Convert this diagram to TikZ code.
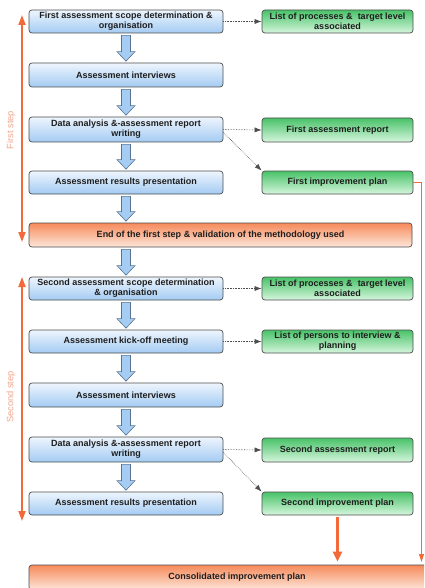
\documentclass[tikz,border=0pt]{standalone}
\usepackage{fontspec}
\setmainfont{Liberation Sans}
\usetikzlibrary{calc,arrows.meta}

\definecolor{boxline}{HTML}{4E4E4E}
\definecolor{txt}{HTML}{1E1E1E}
\definecolor{bluetop}{HTML}{EEF5FD}
\definecolor{bluebot}{HTML}{A3CBF3}
\definecolor{greentop}{HTML}{48C268}
\definecolor{greenbot}{HTML}{D6F6DD}
\definecolor{orangetop}{HTML}{F68A5A}
\definecolor{orangebot}{HTML}{FDE7DB}
\definecolor{arrowfill}{HTML}{A5CDF3}
\definecolor{arrowline}{HTML}{5A7390}
\definecolor{orangeline}{HTML}{F26A3A}
\definecolor{steplabel}{HTML}{F0A68C}

% big down arrow from box #1 to box #2, centred on the task column
\newcommand\flowdown[2]{%
  \draw[flowarrow] let \p1=(#1.south), \p2=(#2.north), \p3=(b1.center) in
    (\x3-4.5pt,\y1-2pt) -- (\x3+4.5pt,\y1-2pt) -- (\x3+4.5pt,\y2+11pt)
    -- (\x3+9pt,\y2+11pt) -- (\x3,\y2+1.5pt) -- (\x3-9pt,\y2+11pt)
    -- (\x3-4.5pt,\y2+11pt) -- cycle;}

\begin{document}
\begin{tikzpicture}[x=1pt,y=-1pt,
  box/.style={draw=boxline, line width=0.7pt, rounded corners=3pt,
    font=\bfseries\fontsize{9}{10}\selectfont, text=txt, align=center,
    inner sep=1pt, shading=axis},
  task/.style={box, minimum width=194pt, top color=bluetop, bottom color=bluebot},
  output/.style={box, minimum width=151pt, top color=greentop, bottom color=greenbot},
  milestone/.style={box, top color=orangetop, bottom color=orangebot},
  flowarrow/.style={draw=arrowline, line width=0.6pt, fill=arrowfill},
  produces/.style={densely dotted, draw=boxline, line width=0.6pt,
    -{Latex[length=7pt,width=5pt]}},
  stepline/.style={draw=orangeline, line width=1.8pt,
    {Triangle[length=10pt,width=7pt]}-{Triangle[length=10pt,width=7pt]}},
  feed/.style={draw=orangeline, line width=2.4pt, -{Triangle[length=10pt,width=9pt]}},
  thinfeed/.style={draw=orangeline, line width=0.8pt, -{Triangle[length=8pt,width=5pt]}},
  steptext/.style={rotate=90, text=steplabel, font=\fontsize{9.3}{11}\selectfont}]

\clip (0,0) rectangle (424,588);
\fill[white] (0,0) rectangle (424,588);

% first step
\node[task, minimum height=23pt] (b1) at (126,21.5) {First assessment scope determination \&\\organisation};
\node[task, minimum height=24pt] (b2) at (126,75) {Assessment interviews};
\node[task, minimum height=25pt] (b3) at (126,129.5) {Data analysis \&-assessment report\\writing};
\node[task, minimum height=23pt] (b4) at (126,182.5) {Assessment results presentation};
\node[milestone, minimum width=383pt, minimum height=24pt] (e1) at (220.5,235) {End of the first step \& validation of the methodology used};

\node[output, minimum height=23pt] (g1) at (337.5,21.5) {List of processes \& \ target level\\associated};
\node[output, minimum height=24pt] (g2) at (337.5,130) {First assessment report};
\node[output, minimum height=23pt] (g3) at (337.5,182.5) {First improvement plan};

% second step
\node[task, minimum height=23pt] (b5) at (126,288.5) {Second assessment scope determination\\\& organisation};
\node[task, minimum height=23pt] (b6) at (126,341.5) {Assessment kick-off meeting};
\node[task, minimum height=24pt] (b7) at (126,395) {Assessment interviews};
\node[task, minimum height=25pt] (b8) at (126,449.5) {Data analysis \&-assessment report\\writing};
\node[task, minimum height=23pt] (b9) at (126,503.5) {Assessment results presentation};

\node[output, minimum height=23pt] (g4) at (337.5,288.5) {List of processes \& \ target level\\associated};
\node[output, minimum height=23pt] (g5) at (337.5,341.5) {List of persons to interview \&\\planning};
\node[output, minimum height=24pt] (g6) at (337.5,450) {Second assessment report};
\node[output, minimum height=23pt] (g7) at (337.5,503.5) {Second improvement plan};

\node[milestone, minimum width=416pt, minimum height=25pt] (cons) at (237,577.5) {Consolidated improvement plan};

% sequence arrows
\flowdown{b1}{b2}
\flowdown{b2}{b3}
\flowdown{b3}{b4}
\flowdown{b4}{e1}
\flowdown{e1}{b5}
\flowdown{b5}{b6}
\flowdown{b6}{b7}
\flowdown{b7}{b8}
\flowdown{b8}{b9}

% deliverables
\draw[produces] (b1.east) -- (g1.west);
\draw[produces] (b3.east) -- (g2.west);
\draw[produces] ([yshift=-3pt]b3.east) -- (g3.north west);
\draw[produces] (b5.east) -- (g4.west);
\draw[produces] (b6.east) -- (g5.west);
\draw[produces] (b8.east) -- (g6.west);
\draw[produces] ([yshift=-3pt]b8.east) -- (g7.north west);

% step extents
\coordinate (s1top) at (22,15);
\coordinate (s1bot) at (22,242);
\coordinate (s2top) at (22,277);
\coordinate (s2bot) at (22,521);
\draw[stepline] (s1top) -- (s1bot);
\draw[stepline] (s2top) -- (s2bot);
\node[steptext] (l1) at (11,130) {First step};
\node[steptext] (l2) at (11,397) {Second step};

% improvement plans feeding the consolidated plan
\coordinate (rtip) at (421.5,562);
\draw[thinfeed] (g3.east) -| (rtip);
\draw[feed, shorten <=2pt, shorten >=3pt] (g7.south) -- (g7.south |- cons.north);

\end{tikzpicture}
\end{document}
